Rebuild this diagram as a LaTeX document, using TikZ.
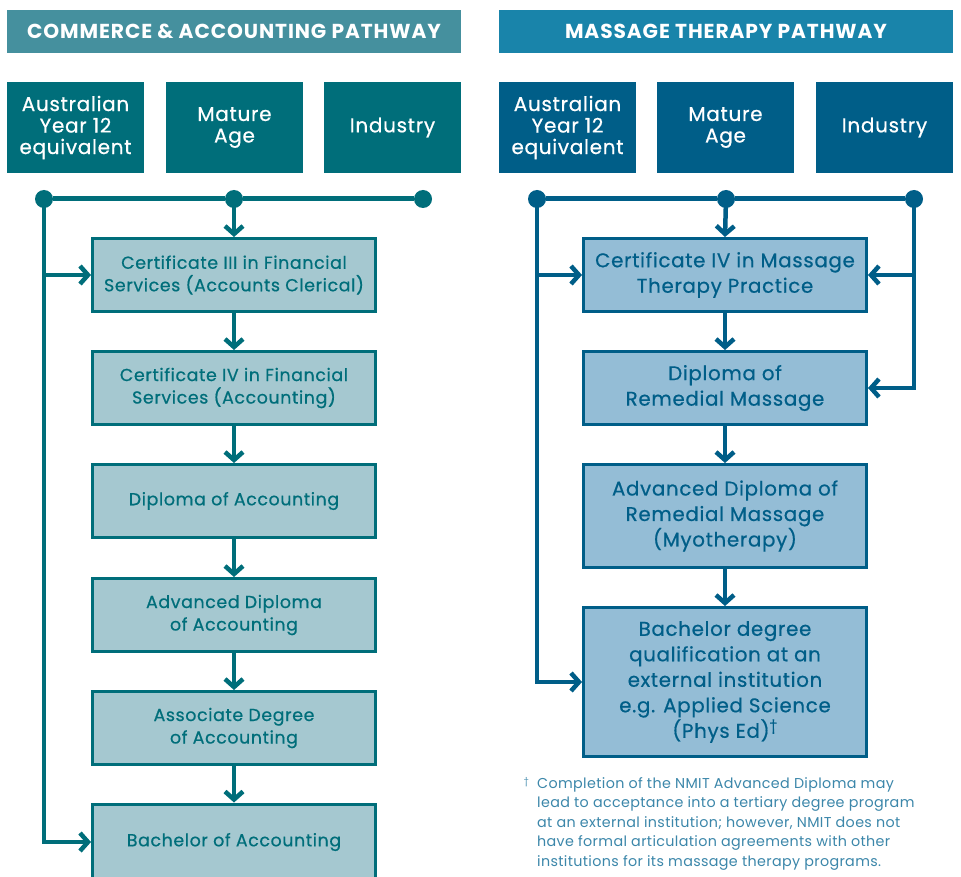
\documentclass[tikz,border=0pt]{standalone}
\usepackage{fontspec}
\setmainfont{Poppins}
\newfontfamily\medfont[FakeBold=0.6,LetterSpace=3.5]{Poppins}
\newfontfamily\hdrfont[LetterSpace=4.5]{Poppins Bold}
\newfontfamily\notefont[LetterSpace=2.5]{Poppins}
\usetikzlibrary{arrows.meta}
\definecolor{hdrL}{HTML}{45909E}
\definecolor{hdrR}{HTML}{1984AA}
\definecolor{darkL}{HTML}{006E7A}
\definecolor{darkR}{HTML}{005E88}
\definecolor{fillL}{HTML}{A5C8D0}
\definecolor{fillR}{HTML}{94BDD6}
\definecolor{noteC}{HTML}{3C87AA}
\begin{document}
\begin{tikzpicture}[x=1pt,y=-1pt,
  hdr/.style={minimum width=454pt,minimum height=43pt,inner sep=0pt,text=white,font=\hdrfont\fontsize{20.2}{22}\selectfont},
  topbox/.style={minimum width=137pt,minimum height=91pt,inner sep=0pt,text=white,align=center,font=\medfont\fontsize{20}{21.5}\selectfont},
  stage/.style={draw,line width=3pt,minimum width=283pt,inner sep=0pt,align=center},
  stageL/.style={stage,draw=darkL,fill=fillL,text=darkL,font=\medfont\fontsize{17.4}{22.5}\selectfont},
  stageR/.style={stage,draw=darkR,fill=fillR,text=darkR,font=\medfont\fontsize{19.8}{25.5}\selectfont},
  dot/.style={circle,minimum size=18pt,inner sep=0pt},
  arr/.style={line width=4.5pt,-{Straight Barb[length=8pt,width=18pt,line width=4.5pt]}},
  bus/.style={line width=5pt}]
\useasboundingbox (0,0) rectangle (961,877);
\fill[white] (0,0) rectangle (961,877);
% headers
\node[hdr,fill=hdrL] (hL) at (234,31.5) {COMMERCE \& ACCOUNTING PATHWAY};
\node[hdr,fill=hdrR] (hR) at (726,31.5) {MASSAGE THERAPY PATHWAY};
% entry boxes
\node[topbox,fill=darkL] (tL1) at (75.5,127.5) {Australian\\Year 12\\equivalent};
\node[topbox,fill=darkL] (tL2) at (234.5,127.5) {Mature\\Age};
\node[topbox,fill=darkL] (tL3) at (392.5,127.5) {Industry};
\node[topbox,fill=darkR] (tR1) at (567.5,127.5) {Australian\\Year 12\\equivalent};
\node[topbox,fill=darkR] (tR2) at (725.5,127.5) {Mature\\Age};
\node[topbox,fill=darkR] (tR3) at (884.5,127.5) {Industry};
% dots
\node[dot,fill=darkL] (dL1) at (44,199) {};
\node[dot,fill=darkL] (dL2) at (234,199) {};
\node[dot,fill=darkL] (dL3) at (423,199) {};
\node[dot,fill=darkR] (dR1) at (537,199) {};
\node[dot,fill=darkR] (dR2) at (726,199) {};
\node[dot,fill=darkR] (dR3) at (914,199) {};
% left stages
\node[stageL,minimum height=73pt] (L1) at (234,275) {Certificate III in Financial\\Services (Accounts Clerical)};
\node[stageL,minimum height=73pt] (L2) at (234,388) {Certificate IV in Financial\\Services (Accounting)};
\node[stageL,minimum height=73pt] (L3) at (234,501) {Diploma of Accounting};
\node[stageL,minimum height=73pt] (L4) at (234,615) {Advanced Diploma\\of Accounting};
\node[stageL,minimum height=73pt] (L5) at (234,728) {Associate Degree\\of Accounting};
\node[stageL,minimum height=76pt] (L6) at (234,842) {Bachelor of Accounting};
% right stages
\node[stageR,minimum height=73pt] (R1) at (725,275) {Certificate IV in Massage\\Therapy Practice};
\node[stageR,minimum height=73pt] (R2) at (725,388) {Diploma of\\Remedial Massage};
\node[stageR,minimum height=103pt] (R3) at (725,516) {Advanced Diploma of\\Remedial Massage\\(Myotherapy)};
\node[stageR,minimum height=149pt] (R4) at (725,682) {Bachelor degree\\qualification at an\\external institution\\e.g. Applied Science\\(Phys Ed)\textsuperscript{\dag}};
% left connectors
\begin{scope}[draw=darkL,color=darkL]
\draw[bus] (dL1) -- (dL2) -- (dL3);
\draw[arr] (dL2.center) -- (L1.north);
\draw[arr] (dL1.center) |- (L1.west);
\draw[arr] (dL1.center) |- (L6.west);
\draw[arr] (L1) -- (L2);
\draw[arr] (L2) -- (L3);
\draw[arr] (L3) -- (L4);
\draw[arr] (L4) -- (L5);
\draw[arr] (L5) -- (L6);
\end{scope}
% right connectors
\begin{scope}[draw=darkR,color=darkR]
\draw[bus] (dR1) -- (dR2) -- (dR3);
\draw[arr] (dR2.center) -- (R1.north);
\draw[arr] (dR1.center) |- (R1.west);
\draw[arr] (dR1.center) |- (R4.west);
\draw[arr] (dR3.center) |- (R1.east);
\draw[arr] (dR3.center) |- (R2.east);
\draw[arr] (R1) -- (R2);
\draw[arr] (R2) -- (R3);
\draw[arr] (R3) -- (R4);
\end{scope}
% footnote
\node[anchor=north west,inner sep=0pt,text=noteC,align=left,font=\notefont\fontsize{14.3}{19.5}\selectfont] (note) at (537,777)
 {Completion of the NMIT Advanced Diploma may\\lead to acceptance into a tertiary degree program\\at an external institution; however, NMIT does not\\have formal articulation agreements with other\\institutions for its massage therapy programs.};
\node[anchor=north east,inner sep=0pt,text=noteC,font=\fontsize{9}{10}\selectfont] (dag) at (529,777) {\dag};
\end{tikzpicture}
\end{document}
